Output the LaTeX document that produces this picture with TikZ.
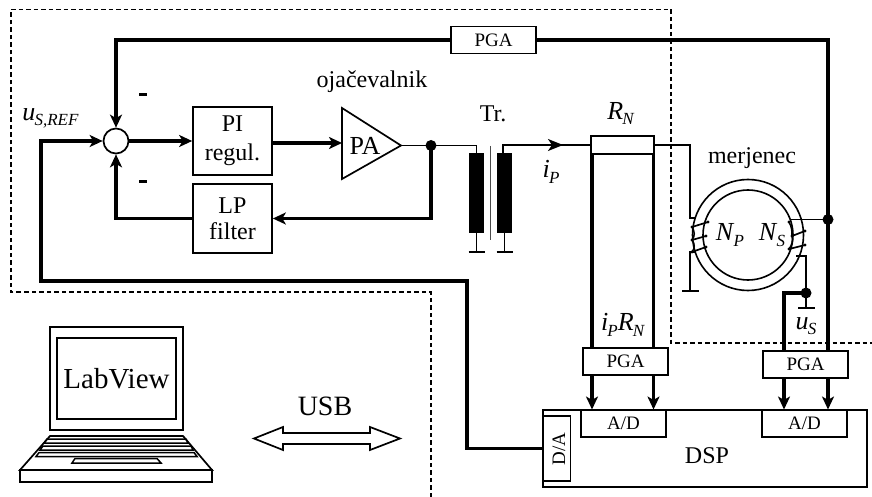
\documentclass[tikz,border=0pt]{standalone}
\usepackage{fontspec}
\setmainfont{Liberation Serif}
\usetikzlibrary{arrows.meta,calc,shapes.geometric}
\newcommand{\tf}[1]{\fontsize{#1}{#1}\selectfont}
\newcommand{\isub}[2]{{\tf{26}\textit{#1}}\raisebox{-.22em}{\tf{17}\textit{\kern-.05em #2}}}
\tikzset{
 x=1pt,y=-1pt,
 boxn/.style={draw,line width=1.7pt,fill=white,inner sep=0pt,align=center},
 bigt/.style={font=\tf{24},inner sep=0pt,align=center},
 thick3/.style={line width=3.6pt},
 thin2/.style={line width=1.7pt},
 arr/.style={-{Stealth[length=13pt,width=12pt,inset=3.5pt]}},
 dash3/.style={line width=1.7pt,dash pattern=on 4.5pt off 3pt},
 dotn/.style={circle,fill=black,inner sep=0pt,minimum size=#1},
 coilb/.style={fill=black,draw=black,inner sep=0pt,minimum width=14pt,minimum height=79pt},
 gbar/.style={line width=2.8pt},
}
\begin{document}
\begin{tikzpicture}[line join=miter]
\useasboundingbox (0,0) rectangle (872,497);
% dashed frame
\draw[dash3] (431,497) -- (431,292) -- (11,292) -- (11,9.5) -- (671,9.5) -- (671,343) -- (872,343);

% blocks
\node[boxn,minimum width=79pt,minimum height=68pt,font=\tf{24}] (pi) at (232.5,141) {PI\\[5pt]regul.};
\node[boxn,minimum width=79pt,minimum height=69pt,font=\tf{24}] (lp) at (232.5,218.5) {LP\\[2pt]filter};
\node[boxn,minimum width=85pt,minimum height=27pt,font=\tf{19}] (pgatop) at (493.5,40) {PGA};
\node[circle,draw,line width=1.7pt,fill=white,minimum size=25pt,inner sep=0pt] (sum) at (116,141) {};
\path[draw,line width=1.7pt,fill=white] (342,108) coordinate (pat) -- (401,145.5) coordinate (pao) -- (342,179) coordinate (pab) -- cycle;
\coordinate (pai) at (342,143);
\node[font=\tf{26},inner sep=0pt] (patext) at (365,146) {PA};
\node[dotn=11pt] (d1) at (431,145.5) {};
\node[coilb] (c1) at (476.5,192.5) {};
\node[coilb] (c2) at (504.5,192.5) {};
\draw[line width=1.2pt,black!70] (490.5,146) -- (490.5,240);
\node[boxn,minimum width=63pt,minimum height=18pt] (rn) at (622.5,145) {};
\node[boxn,minimum width=85pt,minimum height=27pt,font=\tf{19}] (pga1) at (625.5,361.5) {PGA};
\node[boxn,minimum width=85pt,minimum height=27pt,font=\tf{19}] (pga2) at (805.5,364.5) {PGA};
\node[boxn,minimum width=324pt,minimum height=77pt] (dsp) at (705,448.5) {};
\node[font=\tf{24},inner sep=0pt] at (707,456) {DSP};
\node[boxn,minimum width=85pt,minimum height=27pt,font=\tf{19}] (ad1) at (623.5,423.5) {A/D};
\node[boxn,minimum width=85pt,minimum height=27pt,font=\tf{19}] (ad2) at (804.5,423.5) {A/D};
\node[boxn,minimum width=27pt,minimum height=65pt] (da) at (557,448.5) {};
\node[rotate=90,font=\tf{19},inner sep=0pt] at (559,449) {D/A};

% control loop
\draw[thick3,arr] (sum.east) -- (pi.west |- sum.east);
\draw[line width=4.4pt,arr] (pi.east |- pai) -- (pai);
\draw[thin2] (pao) -- (d1.center);
\draw[thick3,arr] (d1.center) |- (lp.east);
\draw[thick3,arr] (lp.west) -| (sum.south);
\draw[thick3,arr] (pgatop.west) -| (sum.north);
\coordinate (ref) at (41,141);
\coordinate (refb) at (41,281);
\draw[thick3,arr] (da.west) -| (467,281) -- (refb) -- (ref) -- (sum.west);
% transformer
\draw[thin2] (d1.center) -| (c1.north);
\coordinate (ip) at (503,145);
\draw[thin2] (c2.north -| ip) -- (ip) -- (rn.west);
\draw[thin2,-{Stealth[length=15pt,width=12pt,inset=4pt]}] (ip) -- (563,145);
\coordinate (g1) at (476.5,252);
\coordinate (g2) at (504.5,252);
\draw[thin2] (c1.south) -- (g1);
\draw[thin2] (c2.south) -- (g2);
\draw[gbar] ($(g1)+(-8,0)$) -- ($(g1)+(8,0)$);
\draw[gbar] ($(g2)+(-8,0)$) -- ($(g2)+(8,0)$);
% shunt to PGA to A/D
\draw[thick3] (592,154) -- (592,348);
\draw[thick3] (653.5,154) -- (653.5,348);
\draw[thick3,arr] (592,375) -- (592,409.5);
\draw[thick3,arr] (653.5,375) -- (653.5,409.5);
% PGA top to right rail
\node[dotn=11pt] (d2) at (828,219.5) {};
\draw[thick3] (pgatop.east) -| (d2.center) -- (828,351);
\draw[thick3,arr] (828,378) -- (828,409.5);
\node[dotn=11pt] (d3) at (806,293) {};
\draw[thick3] (d3.center) -| (784,351);
\draw[thick3,arr] (784,378) -- (784,409.5);
\coordinate (g3) at (806,308);
\draw[thin2] (d3.center) -- (g3);
\draw[gbar] (798,308) -- (815,308);

% toroid
\draw[line width=1.6pt] (748,235) circle (55.5);
\draw[line width=1.6pt] (748,235) circle (45);
\draw[thin2] (rn.east) -- (690,145) -- (690,218) -- (696,218);
\draw[thin2] (696,252) -- (690,252) -- (690,291);
\draw[gbar] (682,291) -- (699,291);
\draw[thin2] (790,219.5) -- (d2.center);
\draw[thin2] (796,256) -- (806,256) -- (d3.center);
% windings
\foreach \a/\b in {692/227,692/240,692/252}{
 \fill (\a,\b) circle (1.7);}
\draw[line width=1.7pt] (692,227) -- (708,222) (692,240) -- (706,236) (692,252) -- (706,247);
\draw[line width=1.5pt] (692,227) .. controls (695,232) and (695,236) .. (692,240);
\draw[line width=1.5pt] (692,240) .. controls (695,244) and (695,248) .. (692,252);
\foreach \a/\b in {708/222,706/236,706/247,789/222,805/231,792/236,805/245,789/249}{
 \fill (\a,\b) circle (1.7);}
\draw[line width=1.7pt] (792,236) -- (805,231) (789,249) -- (805,245);
\draw[line width=1.5pt] (789,222) .. controls (792,227) and (792,232) .. (792,236);
\draw[line width=1.5pt] (792,236) .. controls (793,241) and (792,245) .. (789,249);

% labels
\node[bigt] (tojac) at (372,82) {ojačevalnik};
\node[bigt] (ttr) at (493,114) {Tr.};
\node[bigt] (trn) at (621,113.5) {\isub{R}{N}};
\node[bigt] (tip) at (551,172) {\isub{i}{P}};
\node[bigt] (tmer) at (752,158) {merjenec};
\node[bigt] (tnp) at (730,235) {\isub{N}{P}};
\node[bigt] (tns) at (772,235) {\isub{N}{S}};
\node[bigt] (tus) at (806,326) {\isub{u}{S}};
\node[bigt] (tiprn) at (623,325) {\isub{i}{P}\isub{R}{N}};
\node[bigt] (turef) at (50.5,118) {\isub{u}{S,REF}};
\fill (139,93) rectangle (147,96);
\fill (139,180) rectangle (147,183);

% laptop
\node[boxn,minimum width=133pt,minimum height=103pt] (scr) at (116.5,378.5) {};
\node[boxn,minimum width=119pt,minimum height=81pt,font=\tf{29}] (lv) at (116.5,378.5) {LabView};
\draw[line width=1.7pt,fill=white] (50,436) -- (183,436) -- (212,470) -- (20,470) -- cycle;
\draw[line width=2pt] (20,470) rectangle (212,482);
\draw[line width=1.5pt] (47,439) -- (186,439) -- (188,443) -- (44,443) -- cycle;
\draw[line width=1.5pt] (43,446) -- (191,446) -- (193,450) -- (40,450) -- cycle;
\draw[line width=1.5pt] (39,452.5) -- (194,452.5) -- (197,456.5) -- (36,456.5) -- cycle;
\draw[line width=1.5pt] (75,458.5) -- (157,458.5) -- (161,463) -- (72,463) -- cycle;

% USB
\node[font=\tf{28},inner sep=0pt] (tusb) at (325,406) {USB};
\draw[line width=1.7pt] (254,438.5) -- (283,427) -- (283,433) -- (370,433) -- (370,427) -- (400,438.5) -- (370,450) -- (370,444) -- (283,444) -- (283,450) -- cycle;
\end{tikzpicture}
\end{document}
